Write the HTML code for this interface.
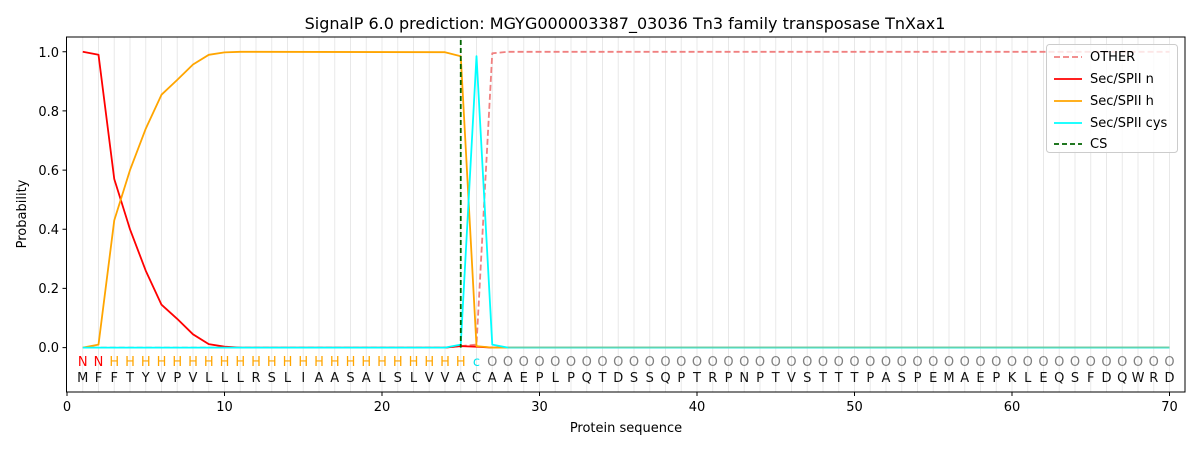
<!DOCTYPE html>
<html><head><meta charset="utf-8"><style>body{margin:0;background:#fff}svg{display:block;font-family:"DejaVu Sans","Liberation Sans",sans-serif}</style></head>
<body>
<svg width="1200" height="450" viewBox="0 0 1200 450" xmlns="http://www.w3.org/2000/svg">
<defs><pattern id="g" patternUnits="userSpaceOnUse" x="82.25" y="0" width="15.75" height="10"><rect x="0" y="0" width="1" height="10" fill="#e8e8e8"/></pattern></defs>
<rect width="1200" height="450" fill="#fff"/>
<rect x="82" y="37" width="1088.5" height="355" fill="url(#g)"/>
<text x="625" y="29" font-size="16" text-anchor="middle">SignalP 6.0 prediction: MGYG000003387_03036 Tn3 family transposase TnXax1</text>
<g fill="none" stroke-width="1.8" stroke-linejoin="round">
<polyline stroke="#f08080" stroke-dasharray="6,3" points="82.75,347.6 445,347.6 460.75,346.1 476.5,344.6 492.25,53.3 508,51.8 1169.5,51.8"/>
<polyline stroke="#ff0000" points="82.75,51.8 98.5,54.7 114.25,179 130,229.3 145.75,270.7 161.5,304.7 177.25,318.9 193,334.3 208.75,344.1 224.5,346.7 240.25,347.6 445,347.6 460.75,346.1 476.5,346.7 492.25,347.6 1169.5,347.6"/>
<polyline stroke="#ffa500" points="82.75,347.6 98.5,344.6 114.25,220.4 130,170.1 145.75,128.7 161.5,94.7 177.25,79.9 193,64.5 208.75,54.8 224.5,52.4 240.25,51.8 445,52.2 460.75,56.2 476.5,346.1 492.25,347.6 1169.5,347.6"/>
<polyline stroke="#00ffff" points="82.75,347.6 445,347.6 460.75,344.6 476.5,56.2 492.25,344.6 508,347.6 1169.5,347.6"/>
<polyline stroke="#5fd3b0" stroke-width="1.2" points="508,347.6 1169.5,347.6"/>
<line x1="460.75" y1="40" x2="460.75" y2="347.6" stroke="#006400" stroke-dasharray="5,3"/>
</g>
<g font-size="13" text-anchor="middle">
<text y="366"><tspan fill="#ff0000" x="82.75 98.5">NN</tspan><tspan fill="#ffa500" x="114.25 130 145.75 161.5 177.25 193 208.75 224.5 240.25 256 271.75 287.5 303.25 319 334.75 350.5 366.25 382 397.75 413.5 429.25 445 460.75">HHHHHHHHHHHHHHHHHHHHHHH</tspan><tspan fill="#00e5ee" x="476.5">c</tspan><tspan fill="#808080" x="492.25 508 523.75 539.5 555.25 571 586.75 602.5 618.25 634 649.75 665.5 681.25 697 712.75 728.5 744.25 760 775.75 791.5 807.25 823 838.75 854.5 870.25 886 901.75 917.5 933.25 949 964.75 980.5 996.25 1012 1027.75 1043.5 1059.25 1075 1090.75 1106.5 1122.25 1138 1153.75 1169.5">OOOOOOOOOOOOOOOOOOOOOOOOOOOOOOOOOOOOOOOOOOOO</tspan></text>
<text y="382" fill="#111" x="82.75 98.5 114.25 130 145.75 161.5 177.25 193 208.75 224.5 240.25 256 271.75 287.5 303.25 319 334.75 350.5 366.25 382 397.75 413.5 429.25 445 460.75 476.5 492.25 508 523.75 539.5 555.25 571 586.75 602.5 618.25 634 649.75 665.5 681.25 697 712.75 728.5 744.25 760 775.75 791.5 807.25 823 838.75 854.5 870.25 886 901.75 917.5 933.25 949 964.75 980.5 996.25 1012 1027.75 1043.5 1059.25 1075 1090.75 1106.5 1122.25 1138 1153.75 1169.5">MFFTYVPVLLLRSLIAASALSLVVACAAEPLPQTDSSQPTRPNPTVSTTTPASPEMAEPKLEQSFDQWRD</text>
</g>
<rect x="66.5" y="37" width="1118.5" height="355" fill="none" stroke="#000" stroke-width="1"/>
<g stroke="#000"><path d="M67 392v4M224.5 392v4M382 392v4M539.5 392v4M697 392v4M854.5 392v4M1012 392v4M1169.5 392v4M66.5 347.6h-4M66.5 288.4h-4M66.5 229.3h-4M66.5 170.1h-4M66.5 110.9h-4M66.5 51.8h-4"/></g>
<g font-size="13" fill="#000">
<g text-anchor="middle"><text x="67" y="411">0</text><text x="224.5" y="411">10</text><text x="382" y="411">20</text><text x="539.5" y="411">30</text><text x="697" y="411">40</text><text x="854.5" y="411">50</text><text x="1012" y="411">60</text><text x="1169.5" y="411">70</text>
<text x="626" y="432">Protein sequence</text></g>
<g text-anchor="end"><text x="59" y="352">0.0</text><text x="59" y="293">0.2</text><text x="59" y="234">0.4</text><text x="59" y="175">0.6</text><text x="59" y="116">0.8</text><text x="59" y="57">1.0</text></g>
<text transform="translate(26,214) rotate(-90)" text-anchor="middle">Probability</text>
</g>
<g>
<rect x="1046.5" y="44.5" width="131" height="108" rx="3" fill="#fff" fill-opacity="0.8" stroke="#ccc"/>
<g stroke-width="1.8"><line x1="1054" y1="57" x2="1082" y2="57" stroke="#f08080" stroke-dasharray="6,3"/><line x1="1054" y1="79" x2="1082" y2="79" stroke="#f00"/><line x1="1054" y1="101" x2="1082" y2="101" stroke="#ffa500"/><line x1="1054" y1="123" x2="1082" y2="123" stroke="#0ff"/><line x1="1054" y1="144" x2="1082" y2="144" stroke="#006400" stroke-dasharray="5,3"/></g>
<g font-size="13"><text x="1090" y="61">OTHER</text><text x="1090" y="83">Sec/SPII n</text><text x="1090" y="105">Sec/SPII h</text><text x="1090" y="127">Sec/SPII cys</text><text x="1090" y="148">CS</text></g>
</g>
</svg>
</body></html>
